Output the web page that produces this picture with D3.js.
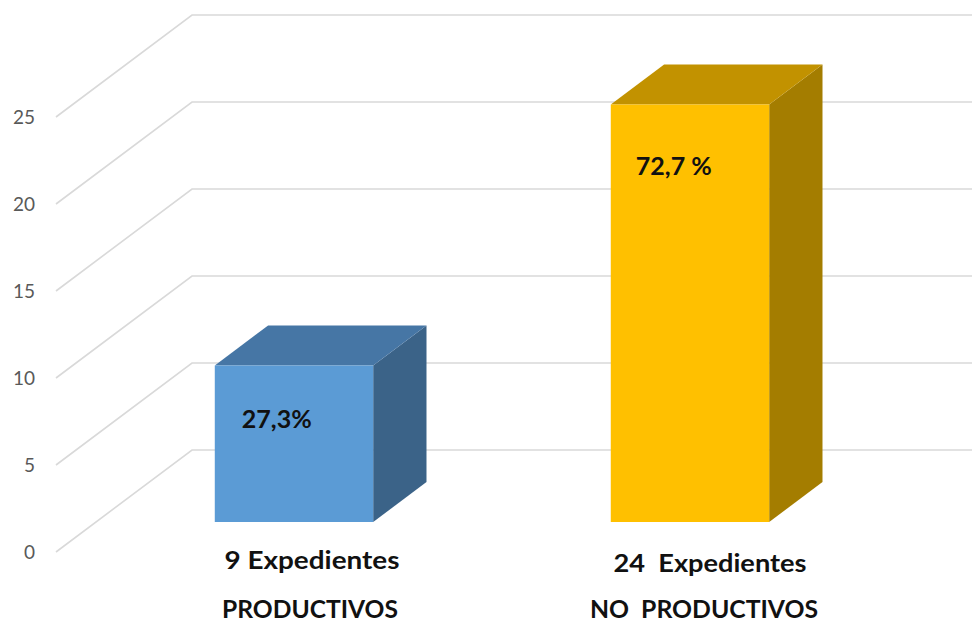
<!DOCTYPE html>
<html>
<head>
<meta charset="utf-8">
<script src="https://cdn.jsdelivr.net/npm/d3@7"></script>
<style>
  html, body { margin: 0; padding: 0; background: #ffffff; }
  svg { display: block; }
  text { white-space: pre; }
</style>
</head>
<body>
<svg id="chart" width="972" height="624"></svg>
<script>
// ---- data ----
const categories = ["PRODUCTIVOS", "NO  PRODUCTIVOS"];
const countLabels = ["9 Expedientes", "24  Expedientes"];
const values = [9, 24];
const percentLabels = ["27,3%", "72,7 %"];
const yTicks = [0, 5, 10, 15, 20, 25];

// ---- styles ----
const fronts = ["#5b9bd5", "#ffc000"];
const tops   = ["#4676a5", "#c29200"];
const sides  = ["#3b6388", "#a47d00"];
const FONT = "Lato, 'Open Sans', sans-serif";

const svg = d3.select("#chart");
const W = 972, H = 624;

// front-plane scales
const y = d3.scaleLinear().domain([0, 25]).range([552, 117]);
const x = d3.scaleBand().domain(categories).range([56, 848])
  .paddingInner(0.6).paddingOuter(0.3);

// depth projection: z from 0 (front) to 1 (back wall)
const DX = 136, DY = 102;
const P = (px, v, z) => [px + z * DX, y(v) - z * DY];

// gridlines
const grid = svg.append("g");
yTicks.forEach(t => {
  const a = P(56, t, 0), b = P(56, t, 1);
  grid.append("path")
    .attr("d", d3.line()([a, b, [W + 2, b[1]]]))
    .attr("fill", "none")
    .attr("stroke", "#d9d9d9")
    .attr("stroke-width", 1.6);
});

// tick labels
svg.append("g").selectAll("text").data(yTicks).join("text")
  .attr("x", 35)
  .attr("y", d => y(d))
  .attr("dy", "0.35em")
  .attr("text-anchor", "end")
  .attr("font-family", FONT)
  .attr("font-size", 19)
  .attr("fill", "#595959")
  .text(d => d);

// bars
const z0 = 0.294, z1 = 0.686;
const bars = svg.append("g");
categories.forEach((c, i) => {
  const xl = x(c), xr = x(c) + x.bandwidth();
  const v = values[i];
  const fl = P(xl, 0, z0), fr = P(xr, 0, z0), tl = P(xl, v, z0), tr = P(xr, v, z0);
  const btl = P(xl, v, z1), btr = P(xr, v, z1), bbr = P(xr, 0, z1);
  bars.append("path").attr("d", d3.line()([fr, tr, btr, bbr]) + "Z").attr("fill", sides[i]);
  bars.append("path").attr("d", d3.line()([tl, tr, btr, btl]) + "Z").attr("fill", tops[i]);
  bars.append("path").attr("d", d3.line()([fl, fr, tr, tl]) + "Z").attr("fill", fronts[i]);
});

// percentage labels
const labelDy = [63, 71];
const pctLen = [70, 76];
categories.forEach((c, i) => {
  const p = P(x(c), values[i], z0);
  svg.append("text")
    .attr("x", p[0] + 27 - (i === 1 ? 2 : 0))
    .attr("y", p[1] + labelDy[i])
    .attr("font-family", FONT)
    .attr("font-weight", "bold")
    .attr("font-size", 24)
    .attr("fill", "#111111")
    .attr("textLength", pctLen[i])
    .attr("lengthAdjust", "spacingAndGlyphs")
    .text(percentLabels[i]);
});

// category labels
const countLen = [175, 193];
const catLen = [176, 228];
categories.forEach((c, i) => {
  const cx = x(c) + x.bandwidth() / 2 + 57;
  svg.append("text")
    .attr("x", cx + (i === 1 ? 3 : 1))
    .attr("y", 569 + (i === 1 ? 3 : 0))
    .attr("text-anchor", "middle")
    .attr("font-family", FONT)
    .attr("font-weight", "bold")
    .attr("font-size", 25)
    .attr("fill", "#111111")
    .attr("textLength", countLen[i])
    .attr("lengthAdjust", "spacingAndGlyphs")
    .text(countLabels[i]);
  svg.append("text")
    .attr("x", cx - (i === 1 ? 3 : 1))
    .attr("y", 618)
    .attr("text-anchor", "middle")
    .attr("font-family", FONT)
    .attr("font-weight", "bold")
    .attr("font-size", 25)
    .attr("fill", "#111111")
    .attr("textLength", catLen[i])
    .attr("lengthAdjust", "spacingAndGlyphs")
    .text(c);
});
</script>
</body>
</html>
